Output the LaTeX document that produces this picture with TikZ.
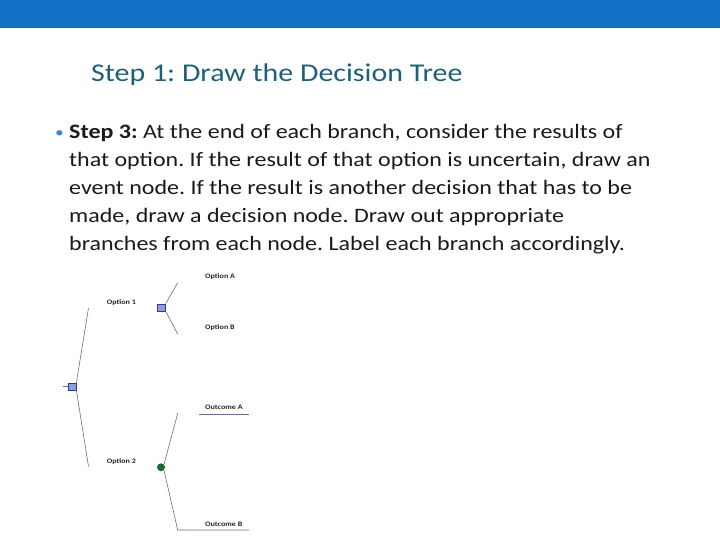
\documentclass[tikz,border=0pt]{standalone}
\usepackage{fontspec}
\setmainfont{Carlito}[FakeStretch=1.17]
\frenchspacing
\usetikzlibrary{positioning}
\definecolor{barblue}{HTML}{1170C4}
\definecolor{titleteal}{HTML}{1F6078}
\definecolor{bulletblue}{HTML}{3A86C8}
\definecolor{bodyblack}{HTML}{1A1A1A}
\definecolor{branchgrey}{HTML}{5B7290}
\definecolor{nodefill}{HTML}{8E9CE6}
\definecolor{nodeedge}{HTML}{2C3E80}
\definecolor{eventgreen}{HTML}{1E6B32}
\begin{document}
\begin{tikzpicture}[x=1pt,y=-1pt]
\tikzset{decision node/.style={draw=nodeedge,fill=nodefill,rectangle,minimum width=8pt,minimum height=7pt,inner sep=0pt,line width=0.8pt},
event node/.style={circle,fill=eventgreen,minimum size=8pt,inner sep=0pt},
branch/.style={draw=branchgrey,line width=0.6pt},
tree label/.style={font=\fontsize{6.9}{8}\selectfont\bfseries,anchor=base west,inner sep=0pt,text=black!85},
body line/.style={font=\fontsize{20.5}{28}\selectfont,anchor=base west,inner sep=0pt,text=bodyblack}}
\useasboundingbox (0,0) rectangle (720,540);
\fill[barblue] (0,0) rectangle (720,28);
\node[anchor=base west,inner sep=0pt,text=titleteal,font=\fontsize{25.6}{30}\selectfont] (title) at (91,82) {Step 1: Draw the Decision Tree};
% bullet text
\node[anchor=base west,inner sep=0pt,text=bulletblue,font=\fontsize{15}{18}\selectfont] (bullet) at (55,138) {•};
\node[body line] (line1) at (69,139) {\textbf{Step 3:} At the end of each branch, consider the results of};
\foreach \txt [count=\i] in {{that option. If the result of that option is uncertain, draw an},
  {event node. If the result is another decision that has to be},
  {made, draw a decision node. Draw out appropriate},
  {branches from each node. Label each branch accordingly.}}
  \node[body line] (line\the\numexpr\i+1\relax) at (69,139+27.9*\i) {\txt};
% tree
\node[decision node] (root) at (72,386.5) {};
\coordinate (rootin) at (63,386.5);
\coordinate (opt1end) at (88.5,308);
\coordinate (opt2end) at (88.5,466.5);
\node[decision node] (dec1) at (161.3,307.5) {};
\coordinate (optAend) at (177.7,282.7);
\coordinate (optBend) at (177.7,334);
\node[event node] (evt2) at (161,467.3) {};
\coordinate (outAend) at (177.7,413.3);
\coordinate (outBend) at (177.7,530);
\coordinate (outAleft) at (199,414.3);
\coordinate (outAright) at (249,414.3);
\coordinate (outBright) at (249,530);
\draw[branch] (rootin) -- (root.west);
\draw[branch] (root.north east) -- (opt1end);
\draw[branch] (root.south east) -- (opt2end);
\draw[branch] (dec1.north east) -- (optAend);
\draw[branch] (dec1.south east) -- (optBend);
\draw[branch] (evt2.north east) -- (outAend);
\draw[branch] (evt2.south east) -- (outBend) -- (outBright);
\draw[branch] (outAleft) -- (outAright);
\node[tree label] (opt1) at (106.7,304) {Option 1};
\node[tree label] (opt2) at (106.7,463.5) {Option 2};
\node[tree label] (optA) at (205,278) {Option A};
\node[tree label] (optB) at (205,329) {Option B};
\node[tree label] (outA) at (205,409) {Outcome A};
\node[tree label] (outB) at (205,526) {Outcome B};
\end{tikzpicture}
\end{document}
